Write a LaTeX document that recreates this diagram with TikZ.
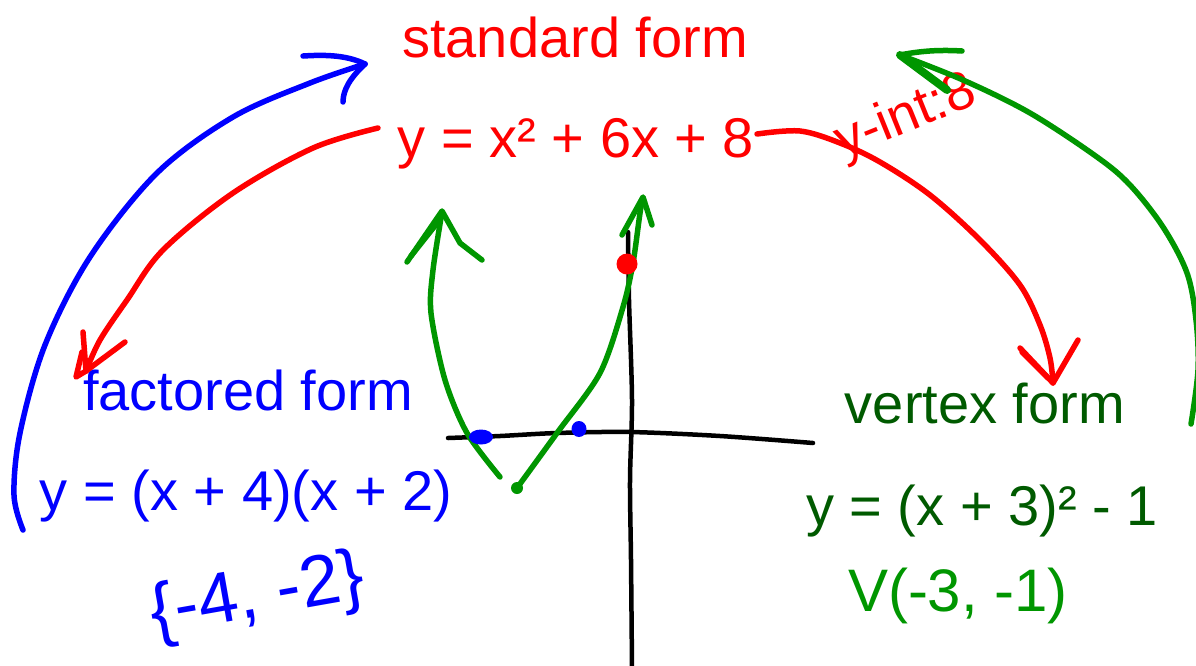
\documentclass[tikz,border=0pt]{standalone}
\usepackage{fontspec}
\setmainfont{Liberation Sans}
\definecolor{pgreen}{RGB}{0,150,0}
\definecolor{dgreen}{RGB}{0,90,0}
\begin{document}
\begin{tikzpicture}[x=1pt,y=-1pt,
  pen/.style={line width=5.5pt,line cap=round,line join=round},
  lbl/.style={font=\fontsize{56}{60}\selectfont, inner sep=0pt, anchor=base},
  hand/.style={font=\fontsize{54}{60}\selectfont, inner sep=0pt}]
\useasboundingbox (0,0) rectangle (1196,665);

% ---------- printed labels ----------
\node[lbl,red] (stdT) at (575,57) {standard form};
\node[lbl,red] (eq) at (576,157) {y = x² + 6x + 8};
\node[lbl,blue] (facT) at (248,410) {factored form};
\node[lbl,blue] (facEq) at (246,510) {y = (x + 4)(x + 2)};
\node[lbl,dgreen] (verT) at (985,423) {vertex form};
\node[lbl,dgreen] (verEq) at (982,525) {y = (x + 3)² - 1};

% ---------- handwritten notes ----------
\node[hand,red,rotate=22] (yint) at (906,118) {y-int:8};
\node[hand,blue,font=\fontsize{72}{78}\selectfont,rotate=10] (roots) at (258,598) {\{-4, -2\}};
\node[hand,pgreen,font=\fontsize{60}{66}\selectfont] (vtx) at (958,596) {V(-3, -1)};

% ---------- axes ----------
\draw[pen,black,line width=4.5pt] plot[smooth] coordinates {(448,438) (500,436) (557,433) (630,432) (720,436) (813,443)};
\draw[pen,black,line width=4.5pt] plot[smooth] coordinates {(628,232) (629,300) (632,400) (630,480) (631,560) (632,668)};

% ---------- parabola ----------
\draw[pen,pgreen] plot[smooth] coordinates {(500,477) (467,433) (445,380) (431,313) (433,270) (442,212)};
\draw[pen,pgreen] (407,262) -- (442,211) -- (460,243) -- (482,260);
\draw[pen,pgreen] (411,256) -- (438,222);
\draw[pen,pgreen] plot[smooth] coordinates {(517,488) (557,433) (600,373) (623,307) (633,263) (640,213) (643,198)};
\draw[pen,pgreen] (622,235) -- (643,197) -- (652,225);
\fill[pgreen] (517,488) circle (6pt);

% ---------- points ----------
\fill[red] (627,264) circle (10.5pt);
\fill[blue] (481,437) ellipse (12pt and 7.5pt);
\fill[blue] (579,429) ellipse (7.5pt and 8pt);

% ---------- blue arc: factored -> standard ----------
\coordinate (bS) at (23,530);
\coordinate (bE) at (365,64);
\draw[pen,blue] plot[smooth,tension=0.55] coordinates {(bS) (14,495) (20,433) (45,345) (90,257) (157,173) (233,117) (310,83) (bE)};
\draw[pen,blue] (bE) .. controls (345,54) and (320,55) .. (303,56);
\draw[pen,blue] (bE) .. controls (350,78) and (343,90) .. (343,102);

% ---------- red arc: standard -> factored ----------
\coordinate (rL0) at (378,128);
\coordinate (rL1) at (86,371);
\draw[pen,red] plot[smooth,tension=0.55] coordinates {(rL0) (313,148) (233,193) (163,250) (127,300) (100,340) (rL1)};
\draw[pen,red] (83,332) -- (rL1) -- (125,342);
\draw[pen,red] (rL1) -- (76,377) -- (82,352);

% ---------- red arc: standard -> vertex ----------
\coordinate (rR0) at (757,134);
\coordinate (rR1) at (1053,383);
\draw[pen,red] plot[smooth,tension=0.55] coordinates {(rR0) (800,131) (840,143) (880,162) (930,195) (980,240) (1020,285) (1040,325) (1050,358) (rR1)};
\draw[pen,red] (1020,348) -- (rR1) -- (1078,340);
\draw[pen,red] (1022,352) -- (1048,378);

% ---------- green arc: vertex -> standard ----------
\coordinate (gS) at (1191,424);
\coordinate (gE) at (900,55);
\draw[pen,pgreen] plot[smooth,tension=0.55] coordinates {(gS) (1198,370) (1196,320) (1187,273) (1163,227) (1130,185) (1097,157) (1030,113) (963,80) (gE)};
\draw[pen,pgreen] (gE) .. controls (925,50) and (945,50) .. (962,51);
\draw[pen,pgreen,line width=8pt] (gE) -- (947,90);
\end{tikzpicture}
\end{document}
